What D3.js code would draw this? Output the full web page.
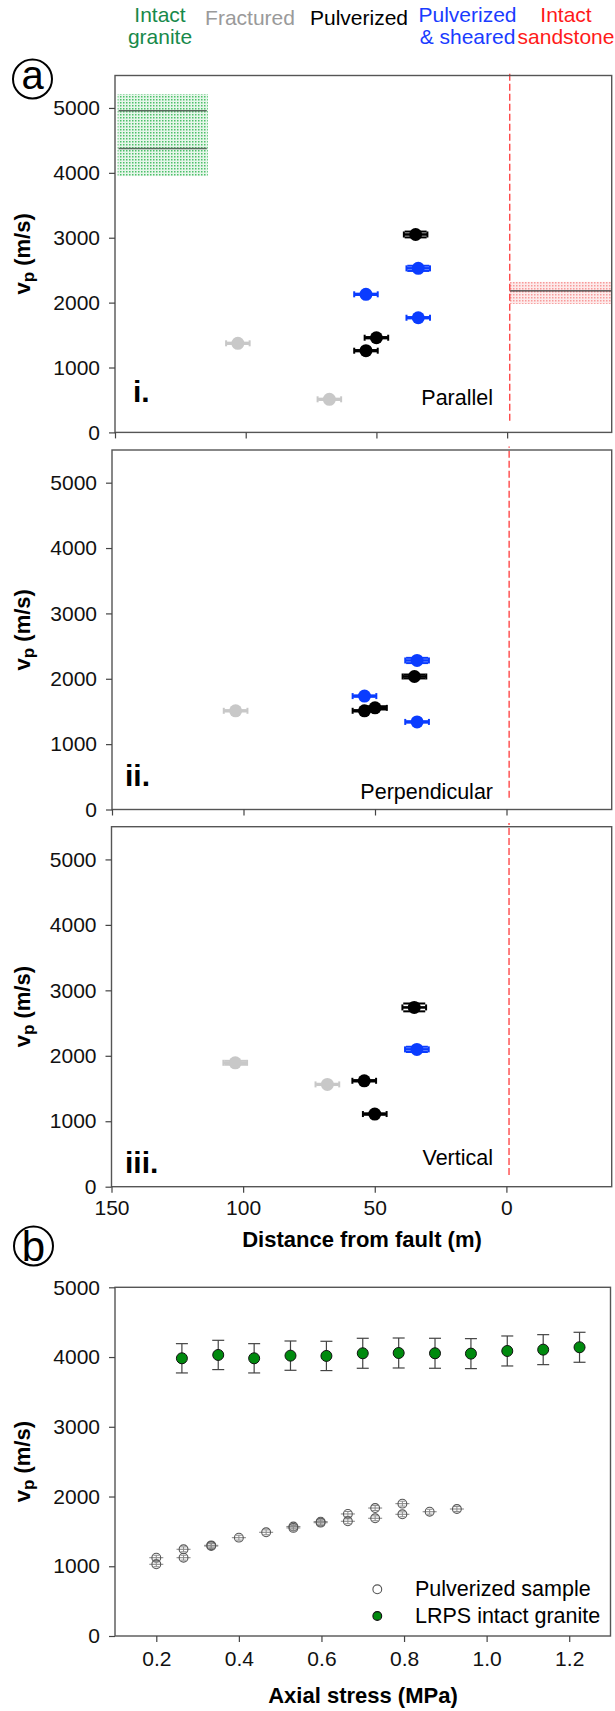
<!DOCTYPE html>
<html>
<head>
<meta charset="utf-8">
<script src="https://d3js.org/d3.v7.min.js"></script>
<style>
    body { margin: 0; background: #fff; }
    svg text { font-family: "Liberation Sans", Arial, sans-serif; }
</style>
</head>
<body>
<div id="vis"></div>
<script>
// ---- data ----
var groups = ['Intact granite', 'Fractured', 'Pulverized', 'Pulverized & sheared', 'Intact sandstone'];
var groupLines = [['Intact', 'granite'], ['Fractured'], ['Pulverized'], ['Pulverized', '& sheared'], ['Intact', 'sandstone']];

var distTicks = [150, 100, 50, 0];
var vpTicks = [0, 1000, 2000, 3000, 4000, 5000];
var stressTicks = [0.2, 0.4, 0.6, 0.8, 1.0, 1.2];
var distErr = 4.5;

// (i) parallel
var parDist = [103, 68, 54, 50, 35, 54, 34, 34];
var parVp = [1373, 510, 1259, 1459, 3050, 2128, 2528, 1767];
var parErr = [10, 10, 10, 10, 45, 10, 40, 10];
var parType = ['Fractured', 'Fractured', 'Pulverized', 'Pulverized', 'Pulverized',
    'Pulverized & sheared', 'Pulverized & sheared', 'Pulverized & sheared'];

// (ii) perpendicular
var perpDist = [103, 54, 50, 35, 54, 34, 34];
var perpVp = [1510, 1510, 1555, 2035, 1735, 2280, 1340];
var perpErr = [10, 10, 25, 30, 10, 40, 10];
var perpType = ['Fractured', 'Pulverized', 'Pulverized', 'Pulverized',
    'Pulverized & sheared', 'Pulverized & sheared', 'Pulverized & sheared'];

// (iii) vertical
var vertDist = [103, 68, 54, 50, 35, 34];
var vertVp = [1893, 1563, 1618, 1110, 2739, 2098];
var vertErr = [30, 10, 10, 10, 60, 40];
var vertType = ['Fractured', 'Fractured', 'Pulverized', 'Pulverized', 'Pulverized', 'Pulverized & sheared'];

// reference bands
var graniteDist = [149, 114.5];
var graniteBand = [3950, 5215];
var graniteLines = [4375, 4955];
var sandstoneDist = [-1, -40];
var sandstoneBand = [1980, 2320];
var sandstoneLine = 2180;
var faultDist = -1;
var faultSpan = [180, 5555];

// (b) axial stress
var pulvStress = [0.2, 0.2, 0.266, 0.266, 0.333, 0.333, 0.4, 0.466, 0.532, 0.532,
    0.598, 0.598, 0.664, 0.664, 0.73, 0.73, 0.796, 0.796, 0.862, 0.928];
var pulvVp = [1123, 1028, 1243, 1123, 1300, 1290, 1410, 1487, 1570, 1550,
    1640, 1625, 1750, 1645, 1835, 1688, 1898, 1745, 1782, 1821];
var pulvStressErr = 0.017;
var pulvVpErr = 35;

var granStress = [0.262, 0.35, 0.437, 0.525, 0.612, 0.70, 0.787, 0.875, 0.962, 1.05, 1.137, 1.225];
var granVp = [3982, 4030, 3982, 4020, 4016, 4054, 4058, 4054, 4049, 4087, 4106, 4140];
var granErr = [210, 210, 210, 210, 210, 215, 215, 215, 215, 215, 215, 215];

var legendNames = ['Pulverized sample', 'LRPS intact granite'];

// ---- style ----
var groupColor = {
    'Intact granite': '#17894a',
    'Fractured': '#9a9a9a',
    'Pulverized': '#000000',
    'Pulverized & sheared': '#1a3cff',
    'Intact sandstone': '#ff1a1a'
};
var pointColor = {
    'Fractured': '#c8c8c8',
    'Pulverized': '#000000',
    'Pulverized & sheared': '#0a3cff'
};
var frameColor = '#555';

var svg = d3.select('#vis')
    .append('svg')
    .attr('width', 615)
    .attr('height', 1711);

var defs = svg.append('defs');
var makeStipple = function(id, bg, dot) {
    var p = defs.append('pattern')
        .attr('id', id)
        .attr('patternUnits', 'userSpaceOnUse')
        .attr('width', 3)
        .attr('height', 3);
    p.append('rect').attr('width', 3).attr('height', 3).attr('fill', bg);
    p.append('rect').attr('width', 1.5).attr('height', 1.5).attr('fill', dot);
};
makeStipple('granite-dots', '#e6f6ea', '#4cc069');
makeStipple('sand-dots', '#fdeaea', '#f79a9a');

// header
var headerX = [160, 250, 359, 467.5, 566];
groupLines.forEach(function(lines, i) {
    var t = svg.append('text')
        .attr('text-anchor', 'middle')
        .style('font-size', '21px')
        .attr('fill', groupColor[groups[i]]);
    lines.forEach(function(s, j) {
        t.append('tspan')
            .attr('x', headerX[i])
            .attr('y', (lines.length > 1 ? 21.5 : 24.5) + j * 22)
            .text(s);
    });
});

var circleLabel = function(cx, cy, s, size, dy) {
    svg.append('circle')
        .attr('cx', cx).attr('cy', cy).attr('r', 19.5)
        .attr('fill', 'none').attr('stroke', '#000').attr('stroke-width', 2);
    svg.append('text')
        .attr('x', cx).attr('y', cy + dy)
        .attr('text-anchor', 'middle')
        .style('font-size', size + 'px')
        .text(s);
};
circleLabel(32.5, 79, 'a', 40, 10);
circleLabel(33.5, 1246, 'b', 42, 15);

var vpLabel = function(cx, cy) {
    var t = svg.append('text')
        .attr('transform', 'translate(' + cx + ',' + cy + ')rotate(-90)')
        .attr('text-anchor', 'middle')
        .style('font-size', '22px')
        .style('font-weight', 'bold');
    t.append('tspan').text('v');
    t.append('tspan').attr('dy', 4).style('font-size', '17px').text('p');
    t.append('tspan').attr('dy', -4).text(' (m/s)');
};

var styleAxis = function(ax) {
    ax.select('.domain').remove();
    ax.selectAll('.tick line').attr('stroke', '#444').attr('stroke-width', 1.2);
    ax.selectAll('.tick text')
        .attr('fill', '#111')
        .style('font-size', '21px')
        .style('font-family', '"Liberation Sans", Arial, sans-serif');
};

// ---- panel a ----
var panels = [
    { left: 115, right: 611.7, top: 75.5, bottom: 432.4, dist: parDist, vp: parVp, err: parErr, type: parType,
      roman: 'i.', romanX: 133, romanY: 401.7, note: 'Parallel', noteY: 405, labels: false, bands: true },
    { left: 112, right: 611.7, top: 450, bottom: 809.5, dist: perpDist, vp: perpVp, err: perpErr, type: perpType,
      roman: 'ii.', romanX: 125, romanY: 785.7, note: 'Perpendicular', noteY: 799.3, labels: false, bands: false },
    { left: 111.5, right: 611.7, top: 826.7, bottom: 1186.7, dist: vertDist, vp: vertVp, err: vertErr, type: vertType,
      roman: 'iii.', romanX: 125, romanY: 1172.7, note: 'Vertical', noteY: 1165, labels: true, bands: false }
];

panels.forEach(function(p) {
    var xScale = d3.scaleLinear().domain([150, -40]).range([p.left, p.right]);
    var yScale = d3.scaleLinear().domain([0, 5500]).range([p.bottom, p.top]);
    var g = svg.append('g');

    if (p.bands) {
        g.append('rect')
            .attr('x', xScale(graniteDist[0]))
            .attr('width', xScale(graniteDist[1]) - xScale(graniteDist[0]))
            .attr('y', yScale(graniteBand[1]))
            .attr('height', yScale(graniteBand[0]) - yScale(graniteBand[1]))
            .attr('fill', 'url(#granite-dots)');
        g.selectAll('line.gline').data(graniteLines).enter().append('line')
            .attr('x1', xScale(graniteDist[0]) + 1)
            .attr('x2', xScale(graniteDist[1]) - 1)
            .attr('y1', function(d) { return yScale(d); })
            .attr('y2', function(d) { return yScale(d); })
            .attr('stroke', '#5a6a5e').attr('stroke-width', 1.5);
        g.append('rect')
            .attr('x', xScale(sandstoneDist[0]))
            .attr('width', xScale(sandstoneDist[1]) - xScale(sandstoneDist[0]))
            .attr('y', yScale(sandstoneBand[1]))
            .attr('height', yScale(sandstoneBand[0]) - yScale(sandstoneBand[1]))
            .attr('fill', 'url(#sand-dots)');
        g.append('line')
            .attr('x1', xScale(sandstoneDist[0])).attr('x2', xScale(sandstoneDist[1]))
            .attr('y1', yScale(sandstoneLine)).attr('y2', yScale(sandstoneLine))
            .attr('stroke', '#333').attr('stroke-width', 1.3);
    }

    g.append('line')
        .attr('x1', xScale(faultDist)).attr('x2', xScale(faultDist))
        .attr('y1', yScale(faultSpan[0])).attr('y2', yScale(faultSpan[1]))
        .attr('stroke', '#ff3b3b').attr('stroke-width', 1.3)
        .attr('stroke-dasharray', '7,3');

    var pts = p.dist.map(function(d, i) {
        return { d: d, v: p.vp[i], e: p.err[i], t: p.type[i] };
    });
    var order = ['Fractured', 'Pulverized', 'Pulverized & sheared'];
    pts.sort(function(a, b) { return order.indexOf(a.t) - order.indexOf(b.t); });

    var pg = g.selectAll('g.pt').data(pts).enter().append('g').attr('class', 'pt');
    pg.each(function(d) {
        var s = d3.select(this);
        var c = pointColor[d.t];
        var cx = xScale(d.d), cy = yScale(d.v);
        var xl = xScale(d.d + distErr), xr = xScale(d.d - distErr);
        var yt = yScale(d.v + d.e), yb = yScale(d.v - d.e);
        s.append('line').attr('x1', xl).attr('x2', xr).attr('y1', cy).attr('y2', cy)
            .attr('stroke', c).attr('stroke-width', 2.6);
        [xl, xr].forEach(function(xx) {
            s.append('line').attr('x1', xx).attr('x2', xx).attr('y1', cy - 3).attr('y2', cy + 3)
                .attr('stroke', c).attr('stroke-width', 2);
        });
        s.append('line').attr('x1', cx).attr('x2', cx).attr('y1', yt).attr('y2', yb)
            .attr('stroke', c).attr('stroke-width', 2);
        [yt, yb].forEach(function(yy) {
            s.append('line').attr('x1', cx - 11).attr('x2', cx + 11).attr('y1', yy).attr('y2', yy)
                .attr('stroke', c).attr('stroke-width', 2);
        });
        s.append('circle').attr('cx', cx).attr('cy', cy).attr('r', 6.5).attr('fill', c);
    });

    g.append('rect')
        .attr('x', p.left).attr('y', p.top)
        .attr('width', p.right - p.left).attr('height', p.bottom - p.top)
        .attr('fill', 'none').attr('stroke', frameColor).attr('stroke-width', 1.4);

    var yAxis = d3.axisLeft(yScale).tickValues(vpTicks).tickSize(6).tickPadding(9)
        .tickFormat(d3.format('d'));
    g.append('g').attr('transform', 'translate(' + p.left + ',0)').call(yAxis).call(styleAxis);

    var xAxis = d3.axisBottom(xScale).tickValues(distTicks).tickSize(6).tickPadding(7)
        .tickFormat(p.labels ? d3.format('d') : '');
    g.append('g').attr('transform', 'translate(0,' + p.bottom + ')').call(xAxis).call(styleAxis);

    g.append('text')
        .attr('x', p.romanX).attr('y', p.romanY)
        .style('font-size', '30px').style('font-weight', 'bold')
        .text(p.roman);
    g.append('text')
        .attr('x', 493).attr('y', p.noteY)
        .attr('text-anchor', 'end')
        .style('font-size', '21.5px')
        .text(p.note);

    vpLabel(30, (p.top + p.bottom) / 2);
});

svg.append('text')
    .attr('x', 362).attr('y', 1247)
    .attr('text-anchor', 'middle')
    .style('font-size', '22px').style('font-weight', 'bold')
    .text('Distance from fault (m)');

// ---- panel b ----
var bp = { left: 115, right: 610.5, top: 1287.3, bottom: 1636 };
var xB = d3.scaleLinear().domain([0.1, 1.3]).range([bp.left, bp.right]);
var yB = d3.scaleLinear().domain([0, 5000]).range([bp.bottom, bp.top]);
var gb = svg.append('g');

// pulverized sample
var pulv = pulvStress.map(function(s, i) { return { s: s, v: pulvVp[i] }; });
var pgb = gb.selectAll('g.pv').data(pulv).enter().append('g').attr('class', 'pv');
pgb.each(function(d) {
    var s = d3.select(this);
    var cx = xB(d.s), cy = yB(d.v);
    s.append('line')
        .attr('x1', xB(d.s - pulvStressErr)).attr('x2', xB(d.s + pulvStressErr))
        .attr('y1', cy).attr('y2', cy)
        .attr('stroke', '#8a8a8a').attr('stroke-width', 1.1);
    s.append('line')
        .attr('x1', cx).attr('x2', cx)
        .attr('y1', yB(d.v + pulvVpErr)).attr('y2', yB(d.v - pulvVpErr))
        .attr('stroke', '#8a8a8a').attr('stroke-width', 1);
    [d.v + pulvVpErr, d.v - pulvVpErr].forEach(function(vv) {
        s.append('line').attr('x1', cx - 3).attr('x2', cx + 3)
            .attr('y1', yB(vv)).attr('y2', yB(vv))
            .attr('stroke', '#8a8a8a').attr('stroke-width', 1);
    });
    s.append('circle').attr('cx', cx).attr('cy', cy).attr('r', 4.4)
        .attr('fill', 'none').attr('stroke', '#555').attr('stroke-width', 1.1);
});

// intact granite
var gran = granStress.map(function(s, i) { return { s: s, v: granVp[i], e: granErr[i] }; });
var ggb = gb.selectAll('g.gr').data(gran).enter().append('g').attr('class', 'gr');
ggb.each(function(d) {
    var s = d3.select(this);
    var cx = xB(d.s);
    s.append('line')
        .attr('x1', cx).attr('x2', cx)
        .attr('y1', yB(d.v + d.e)).attr('y2', yB(d.v - d.e))
        .attr('stroke', '#444').attr('stroke-width', 1.2);
    [d.v + d.e, d.v - d.e].forEach(function(vv) {
        s.append('line').attr('x1', cx - 6).attr('x2', cx + 6)
            .attr('y1', yB(vv)).attr('y2', yB(vv))
            .attr('stroke', '#444').attr('stroke-width', 1.2);
    });
    s.append('circle').attr('cx', cx).attr('cy', yB(d.v)).attr('r', 5.5)
        .attr('fill', '#008a0e').attr('stroke', '#111').attr('stroke-width', 1);
});

gb.append('rect')
    .attr('x', bp.left).attr('y', bp.top)
    .attr('width', bp.right - bp.left).attr('height', bp.bottom - bp.top)
    .attr('fill', 'none').attr('stroke', frameColor).attr('stroke-width', 1.4);

gb.append('g').attr('transform', 'translate(' + bp.left + ',0)')
    .call(d3.axisLeft(yB).tickValues(vpTicks).tickSize(6).tickPadding(9).tickFormat(d3.format('d')))
    .call(styleAxis);
gb.append('g').attr('transform', 'translate(0,' + bp.bottom + ')')
    .call(d3.axisBottom(xB).tickValues(stressTicks).tickSize(6).tickPadding(9).tickFormat(d3.format('.1f')))
    .call(styleAxis);

vpLabel(30, (bp.top + bp.bottom) / 2);

svg.append('text')
    .attr('x', 363).attr('y', 1703)
    .attr('text-anchor', 'middle')
    .style('font-size', '22px').style('font-weight', 'bold')
    .text('Axial stress (MPa)');

// legend
var legendY = [1589.3, 1616];
legendNames.forEach(function(name, i) {
    gb.append('circle')
        .attr('cx', 377.3).attr('cy', legendY[i]).attr('r', 4.4)
        .attr('fill', i === 0 ? '#fff' : '#008a0e')
        .attr('stroke', i === 0 ? '#555' : '#111').attr('stroke-width', 1.1);
    gb.append('text')
        .attr('x', 415).attr('y', legendY[i] + 6.5)
        .style('font-size', '21.5px')
        .text(name);
});
</script>
</body>
</html>
